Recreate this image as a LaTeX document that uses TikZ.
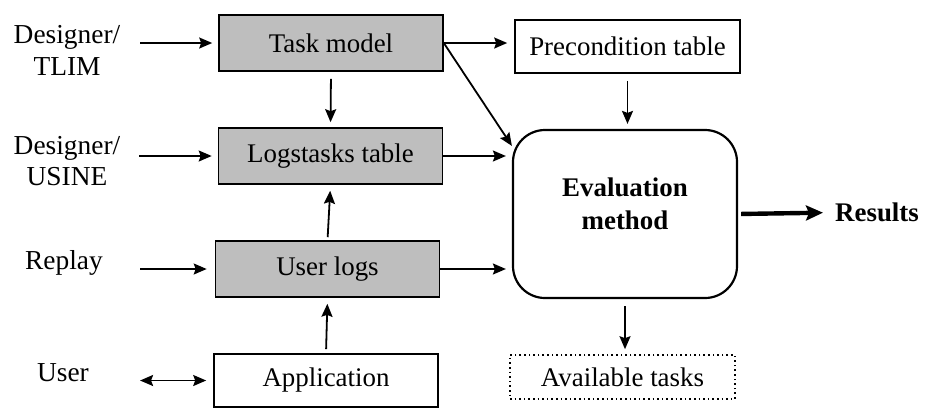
\documentclass[tikz,border=0pt]{standalone}
\usepackage{fontspec}
\setmainfont{Liberation Serif}
\newfontfamily\figfont{Liberation Serif}
\usetikzlibrary{arrows.meta}

\definecolor{stipple}{RGB}{190,190,190}

\tikzset{
  box/.style={draw=black, line width=1.6bp, inner sep=0pt, minimum width=224bp,
              font=\figfont\fontsize{27}{33}\selectfont},
  shadedbox/.style={box, fill=stipple},
  plainbox/.style={box, fill=white},
  dotbox/.style={box, dash pattern=on 1.6bp off 3bp},
  evalbox/.style={draw=black, line width=2.2bp, rounded corners=32bp, inner sep=0pt,
                  minimum width=224bp, minimum height=168bp},
  lbl/.style={inner sep=0pt, align=center, font=\figfont\fontsize{27.5}{32}\selectfont},
  boldlbl/.style={inner sep=0pt, align=center, font=\figfont\fontsize{27}{33}\selectfont\bfseries},
  tip/.tip={Stealth[length=13bp,width=11bp,inset=2bp]},
  arr/.style={line width=1.8bp, -tip},
  dblarr/.style={line width=1.8bp, tip-tip},
  bigarr/.style={line width=4.4bp, -{Stealth[length=17bp,width=15bp,inset=3bp]}}
}

\begin{document}
\begin{tikzpicture}[x=1bp,y=-1bp]
  \useasboundingbox (0,0) rectangle (928,409);

  % left-hand sources
  \node[lbl] (tlim)   at (67,50)    {Designer/\\TLIM};
  \node[lbl] (usine)  at (67,161)   {Designer/\\USINE};
  \node[lbl] (replay) at (64,263)   {Replay};
  \node[lbl] (user)   at (63,372.5) {User};

  % central column
  \node[shadedbox, minimum height=56bp] (task) at (331,43)    {Task model};
  \node[shadedbox, minimum height=56bp] (logs) at (330.5,156) {Logstasks table};
  \node[shadedbox, minimum height=56bp] (ulog) at (327.5,269) {User logs};
  \node[plainbox,  minimum height=53bp] (app)  at (326,380.5) {Application};

  % right column
  \node[plainbox, minimum height=53bp, minimum width=225bp] (pre) at (627.5,46.5) {Precondition table};
  \node[evalbox] (eval) at (625,214) {};
  \node[boldlbl] (evaltxt) at (625,204) {Evaluation\\method};
  \node[dotbox, minimum height=44bp, minimum width=225bp] (avail) at (622.5,377) {Available tasks};
  \node[boldlbl, anchor=west] (res) at (835,212.5) {Results};

  % inputs to the central column
  \draw[arr, shorten <=20bp, shorten >=6bp] (tlim.east |- task.west) -- (task.west);
  \draw[arr, shorten <=19bp, shorten >=6bp] (usine.east |- logs.west) -- (logs.west);
  \draw[arr, shorten <=37bp, shorten >=8bp] (replay.east |- ulog.west) -- (ulog.west);
  \draw[dblarr, shorten <=51bp, shorten >=7bp] (user.east |- app.west) -- (app.west);

  % vertical flows in the central column
  \draw[arr, shorten <=7bp, shorten >=5bp] (task.south) -- (logs.north);
  \draw[arr, shorten <=3bp, shorten >=6bp] (ulog.north) -- (logs.south);
  \draw[arr, shorten <=4bp, shorten >=6bp] (app.north) -- (ulog.south);

  % flows into the evaluation method
  \draw[arr, shorten >=7bp] (task.east) -- (pre.west |- task.east);
  \draw[arr] (task.east) -- ([yshift=-17bp]eval.north west);
  \draw[arr, shorten >=6bp] (logs.east) -- (eval.west |- logs.east);
  \draw[arr, shorten >=6bp] (ulog.east) -- (eval.west |- ulog.east);
  \draw[arr, shorten <=7bp, shorten >=5bp] (pre.south) -- (pre.south |- eval.north);

  % outputs
  \draw[arr, shorten <=7bp, shorten >=5bp] (eval.south) -- (eval.south |- avail.north);
  \draw[bigarr, shorten <=3bp, shorten >=12bp] (eval.east) -- (res.west);
\end{tikzpicture}
\end{document}
